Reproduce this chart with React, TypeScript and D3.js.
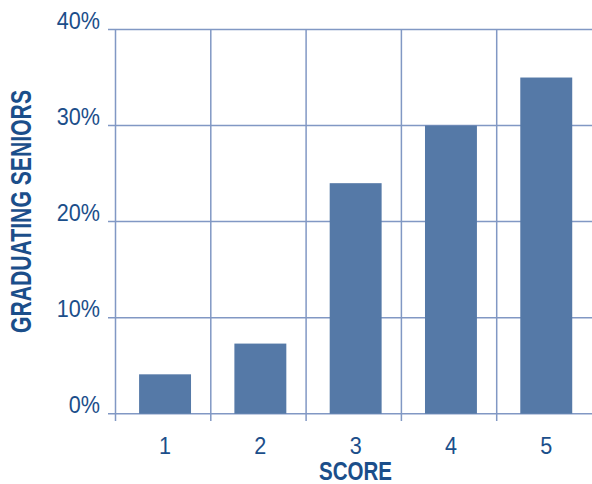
import React from 'react';
import * as d3 from 'd3';

const scores = ['1', '2', '3', '4', '5'];
const seniorShare = [4.1, 7.3, 24, 30, 35];
const yTicks = [0, 10, 20, 30, 40];

const WIDTH = 592;
const HEIGHT = 484;
const TEXT = '#1b4e8a';
const GRID = '#8198c4';
const BAR = '#5579a7';
const FONT = '"Liberation Sans", Arial, sans-serif';
const SQUEEZE = 0.9; // the original uses a slightly condensed face

export default function App() {
  const x = d3.scaleBand<string>().domain(scores).range([115.5, 592]).padding(0);
  const y = d3.scaleLinear().domain([0, 40]).range([413.7, 29.5]);
  const step = x.step();
  const barW = step * 0.545;
  // bars sit a touch right of the band centre in the original
  const centre = (s: string) => (x(s) as number) + step * 0.52;

  return (
    <svg
      width={WIDTH}
      height={HEIGHT}
      style={{ position: 'absolute', left: 0, top: 0, background: '#fff' }}
    >
      {/* horizontal grid */}
      {yTicks.map(t => (
        <line
          key={'h' + t}
          x1={108}
          x2={WIDTH}
          y1={y(t)}
          y2={y(t)}
          stroke={GRID}
          strokeWidth={1.5}
        />
      ))}

      {/* vertical grid, running down past the baseline as ticks */}
      {scores.map(s => (
        <line
          key={'v' + s}
          x1={x(s)}
          x2={x(s)}
          y1={y(40)}
          y2={421}
          stroke={GRID}
          strokeWidth={1.5}
        />
      ))}

      {/* bars */}
      {scores.map((s, i) => (
        <rect
          key={'b' + s}
          x={centre(s) - barW / 2}
          y={y(seniorShare[i])}
          width={barW}
          height={y(0) - y(seniorShare[i])}
          fill={BAR}
        />
      ))}

      {/* y tick labels */}
      {yTicks.map(t => (
        <text
          key={'yl' + t}
          transform={`translate(100,${y(t) - 0.5}) scale(${SQUEEZE},1)`}
          textAnchor="end"
          fontFamily={FONT}
          fontSize={24}
          fill={TEXT}
        >
          {t + '%'}
        </text>
      ))}

      {/* x tick labels */}
      {scores.map(s => (
        <text
          key={'xl' + s}
          transform={`translate(${centre(s)},453.5) scale(${SQUEEZE},1)`}
          textAnchor="middle"
          fontFamily={FONT}
          fontSize={24}
          fill={TEXT}
        >
          {s}
        </text>
      ))}

      {/* axis titles */}
      <text
        x={355.5}
        y={480}
        textAnchor="middle"
        fontFamily={FONT}
        fontWeight="bold"
        fontSize={25}
        textLength={73}
        lengthAdjust="spacingAndGlyphs"
        fill={TEXT}
      >
        SCORE
      </text>
      <text
        transform="translate(30.5,211.5) rotate(-90)"
        textAnchor="middle"
        fontFamily={FONT}
        fontWeight="bold"
        fontSize={29}
        textLength={243}
        lengthAdjust="spacingAndGlyphs"
        fill={TEXT}
      >
        GRADUATING SENIORS
      </text>
    </svg>
  );
}
